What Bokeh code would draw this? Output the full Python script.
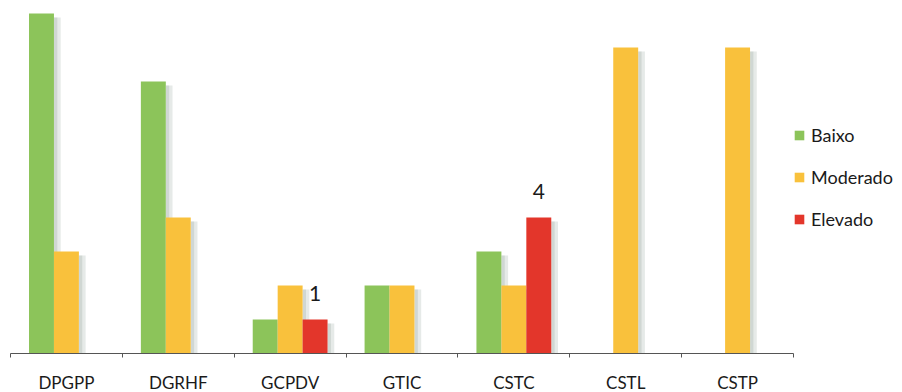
from bokeh.plotting import figure
from bokeh.models import ColumnDataSource, Range1d, FixedTicker, Legend, LegendItem
from bokeh.transform import dodge
from bokeh.core.properties import value
from bokeh.embed import file_html
from bokeh.resources import INLINE

categories = ["DPGPP", "DGRHF", "GCPDV", "GTIC", "CSTC", "CSTL", "CSTP"]
baixo = [10, 8, 1, 2, 3, 0, 0]
moderado = [3, 4, 2, 2, 2, 9, 9]
elevado = [0, 0, 1, 0, 4, 0, 0]
series_names = ["Baixo", "Moderado", "Elevado"]
series_values = [baixo, moderado, elevado]
colors = ["#8cc45a", "#f9c13c", "#e3362b"]
labelled_series = "Elevado"

FONT = "Lato"
BAR_W = 0.223
offsets = [-BAR_W, 0.0, BAR_W]

p = figure(frame_width=783, frame_height=353, output_backend="svg", toolbar_location=None,
           x_range=Range1d(0, len(categories)), y_range=Range1d(0, 10.38),
           y_axis_location=None, min_border_left=10, min_border_right=109,
           min_border_top=0, min_border_bottom=39, outline_line_color=None)
p.xgrid.visible = False
p.ygrid.visible = False

centers = [i + 0.5 for i in range(len(categories))]

# shadows first
for vals, off in zip(series_values, offsets):
    xs = [c for c, v in zip(centers, vals) if v > 0]
    ts = [v - 0.12 for v in vals if v > 0]
    src = ColumnDataSource(dict(xc=xs, top=ts))
    p.vbar(x=dodge("xc", off + BAR_W / 2 + 0.03, range=p.x_range), top="top", bottom=0,
           width=0.06, source=src, fill_color="#8e9e94", fill_alpha=0.22, line_color=None)
    p.vbar(x=dodge("xc", off + BAR_W / 2 + 0.015, range=p.x_range), top="top", bottom=0,
           width=0.03, source=src, fill_color="#8e9e94", fill_alpha=0.25, line_color=None)

items = []
for name, vals, off, col in zip(series_names, series_values, offsets, colors):
    xs = [c for c, v in zip(centers, vals) if v > 0]
    ts = [v for v in vals if v > 0]
    src = ColumnDataSource(dict(xc=xs, top=ts, lab=[str(v) for v in ts]))
    r = p.vbar(x=dodge("xc", off, range=p.x_range), top="top", bottom=0, width=BAR_W,
               source=src, fill_color=col, line_color=None)
    items.append(LegendItem(label=name, renderers=[r]))
    if name == labelled_series:
        p.text(x=dodge("xc", off, range=p.x_range), y="top", text="lab", source=src,
               text_align="center", text_baseline="middle", y_offset=-26,
               text_font=value(FONT), text_font_size="21px", text_color="#1a1a1a")

ax = p.xaxis[0]
ax.ticker = FixedTicker(ticks=centers, minor_ticks=list(range(len(categories) + 1)))
ax.major_label_overrides = {c: lab for c, lab in zip(centers, categories)}
ax.major_tick_line_color = None
ax.major_tick_in = 0
ax.major_tick_out = 0
ax.minor_tick_in = 0
ax.minor_tick_out = 4
ax.minor_tick_line_color = "#555555"
ax.axis_line_color = "#555555"
ax.major_label_standoff = 14
ax.major_label_text_font = FONT
ax.major_label_text_font_size = "17px"
ax.major_label_text_color = "#1a1a1a"

legend = Legend(items=items, location="center_left", orientation="vertical",
                glyph_width=12, glyph_height=12, label_standoff=6, spacing=20,
                padding=3, margin=0, border_line_color=None, background_fill_alpha=0,
                label_text_font=FONT, label_text_font_size="18px", label_text_color="#1a1a1a")
p.add_layout(legend, "right")

open("out.html", "w").write(file_html(p, INLINE))
